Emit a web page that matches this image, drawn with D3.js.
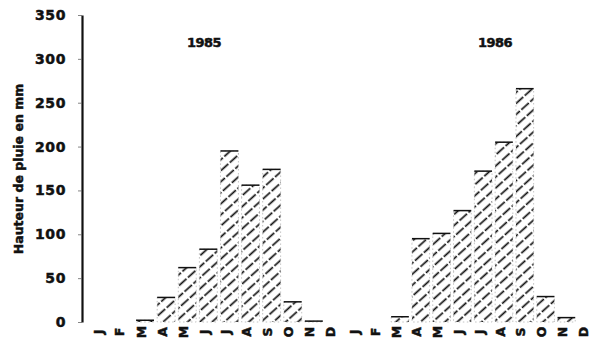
<!DOCTYPE html>
<html>
<head>
<meta charset="utf-8">
<script src="https://cdn.jsdelivr.net/npm/d3@7"></script>
<style>
  html, body { margin: 0; padding: 0; background: #fff; }
  svg { display: block; }
  text { font-family: "DejaVu Sans", Arial, sans-serif; font-weight: bold; fill: #111; stroke: #111; stroke-width: 0.5px; }
</style>
</head>
<body>
<svg id="chart" width="599" height="343"></svg>
<script>
// Monthly rainfall (mm), two rainy seasons
const months = ["J", "F", "M", "A", "M", "J", "J", "A", "S", "O", "N", "D"];
const rain1985 = [0, 0, 2, 28, 62, 83, 195, 156, 174, 23, 1, 0];
const rain1986 = [0, 0, 6, 95, 101, 127, 172, 205, 266, 29, 5, 0];
const years = ["1985", "1986"];
const yTicks = [0, 50, 100, 150, 200, 250, 300, 350];

const svg = d3.select("#chart");

const y = d3.scaleLinear().domain([0, 350]).range([322, 15]);

// one band scale per year, each holding the twelve months
const xYear = {
  "1985": d3.scaleBand().domain(d3.range(12)).range([92.3, 345.5]).paddingInner(0.15).paddingOuter(0.075),
  "1986": d3.scaleBand().domain(d3.range(12)).range([348, 597.6]).paddingInner(0.15).paddingOuter(0.075)
};
const values = { "1985": rain1985, "1986": rain1986 };
const headingX = { "1985": 204, "1986": 495 };

// diagonal hatching
const defs = svg.append("defs");
const pat = defs.append("pattern")
  .attr("id", "hatch")
  .attr("patternUnits", "userSpaceOnUse")
  .attr("width", 8.2).attr("height", 12)
  .attr("patternTransform", "rotate(48)");
pat.append("line")
  .attr("x1", 4).attr("x2", 4).attr("y1", 0).attr("y2", 12)
  .attr("stroke", "#111").attr("stroke-width", 1.7)
  .attr("stroke-dasharray", "10 2");

// y axis
const yAxis = d3.axisLeft(y).tickValues(yTicks).tickSize(4).tickSizeOuter(0).tickPadding(12);
const gy = svg.append("g").attr("transform", "translate(82,0)").call(yAxis);
gy.select(".domain").attr("stroke", "#111").attr("stroke-width", 2.2);
gy.selectAll(".tick line").attr("stroke", "#666").attr("stroke-width", 0.8);
gy.selectAll(".tick text").style("font-size", "14px").attr("fill", "#111").attr("letter-spacing", "0.6px");

svg.append("text")
  .attr("transform", "translate(23,169) rotate(-90)")
  .attr("text-anchor", "middle")
  .style("font-size", "12.5px")
  .text("Hauteur de pluie en mm");

years.forEach(yr => {
  const x = xYear[yr];
  const data = values[yr].map((v, i) => ({ i, v }));
  const g = svg.append("g");

  const bars = g.selectAll("g.bar").data(data.filter(d => d.v > 0)).join("g").attr("class", "bar");
  bars.append("rect")
    .attr("x", d => x(d.i))
    .attr("y", d => y(d.v))
    .attr("width", x.bandwidth())
    .attr("height", d => y(0) - y(d.v))
    .attr("fill", "url(#hatch)")
    .attr("stroke", "#aaa")
    .attr("stroke-width", 0.7)
    .attr("stroke-dasharray", "1.5 2.5");
  // solid top edge
  bars.append("line")
    .attr("x1", d => x(d.i))
    .attr("x2", d => x(d.i) + x.bandwidth())
    .attr("y1", d => y(d.v))
    .attr("y2", d => y(d.v))
    .attr("stroke", "#111")
    .attr("stroke-width", 1.5);

  // month letters, turned on their side
  g.selectAll("text.month").data(months).join("text")
    .attr("class", "month")
    .attr("transform", (m, i) => `translate(${x(i) + x.bandwidth() / 2 - 4},332) rotate(-90)`)
    .attr("text-anchor", "middle")
    .attr("dominant-baseline", "central")
    .style("font-size", "12.5px")
    .text(m => m);

  // year heading
  svg.append("text")
    .attr("x", headingX[yr])
    .attr("y", 47)
    .attr("text-anchor", "middle")
    .style("font-size", "13px")
    .attr("letter-spacing", "-0.5px")
    .text(yr);
});
</script>
</body>
</html>
